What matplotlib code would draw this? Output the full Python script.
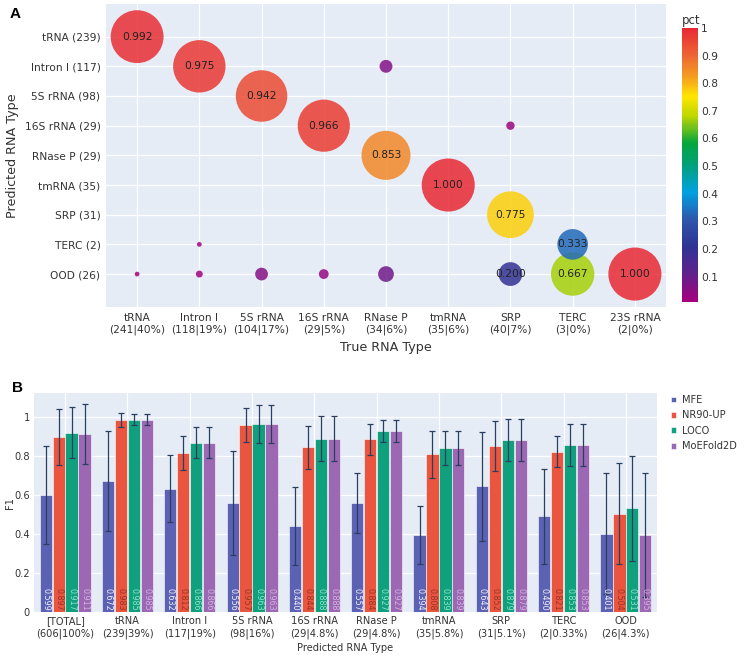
import matplotlib
matplotlib.use("Agg")
import matplotlib.pyplot as plt
from matplotlib.colors import LinearSegmentedColormap, Normalize
from matplotlib.colorbar import ColorbarBase
import numpy as np

plt.rcParams["font.family"] = ["DejaVu Sans"]

# ── 数据：A 面板（气泡图）──
true_types = ["tRNA", "Intron I", "5S rRNA", "16S rRNA", "RNase P",
              "tmRNA", "SRP", "TERC", "23S rRNA"]
true_ticklabels = ["tRNA\n(241|40%)", "Intron I\n(118|19%)", "5S rRNA\n(104|17%)",
                   "16S rRNA\n(29|5%)", "RNase P\n(34|6%)", "tmRNA\n(35|6%)",
                   "SRP\n(40|7%)", "TERC\n(3|0%)", "23S rRNA\n(2|0%)"]
pred_types = ["tRNA", "Intron I", "5S rRNA", "16S rRNA", "RNase P",
              "tmRNA", "SRP", "TERC", "OOD"]
pred_ticklabels = ["tRNA (239)", "Intron I (117)", "5S rRNA (98)", "16S rRNA (29)",
                   "RNase P (29)", "tmRNA (35)", "SRP (31)", "TERC (2)", "OOD (26)"]

bub_true = ["tRNA", "Intron I", "5S rRNA", "16S rRNA", "RNase P", "SRP", "TERC", "23S rRNA",
            "tRNA", "Intron I", "5S rRNA", "16S rRNA", "RNase P", "tmRNA", "SRP", "TERC",
            "Intron I", "RNase P", "SRP"]
bub_pred = ["OOD", "OOD", "OOD", "OOD", "OOD", "OOD", "OOD", "OOD",
            "tRNA", "Intron I", "5S rRNA", "16S rRNA", "RNase P", "tmRNA", "SRP", "TERC",
            "TERC", "Intron I", "16S rRNA"]
bub_pct = [0.008, 0.017, 0.058, 0.034, 0.088, 0.200, 0.667, 1.000,
           0.992, 0.975, 0.942, 0.966, 0.853, 1.000, 0.775, 0.333,
           0.008, 0.059, 0.025]

# ── 数据：B 面板（分组柱状图）──
groups = ["[TOTAL]\n(606|100%)", "tRNA\n(239|39%)", "Intron I\n(117|19%)",
          "5S rRNA\n(98|16%)", "16S rRNA\n(29|4.8%)", "RNase P\n(29|4.8%)",
          "tmRNA\n(35|5.8%)", "SRP\n(31|5.1%)", "TERC\n(2|0.33%)", "OOD\n(26|4.3%)"]
methods = ["MFE", "NR90-UP", "LOCO", "MoEFold2D"]
f1_mfe = [0.599, 0.672, 0.632, 0.556, 0.440, 0.557, 0.394, 0.643, 0.490, 0.401]
f1_nr90 = [0.897, 0.983, 0.812, 0.957, 0.844, 0.884, 0.808, 0.852, 0.821, 0.504]
f1_loco = [0.917, 0.985, 0.866, 0.963, 0.888, 0.927, 0.839, 0.879, 0.853, 0.531]
f1_moe = [0.911, 0.985, 0.866, 0.963, 0.888, 0.927, 0.839, 0.879, 0.853, 0.395]
sd_mfe = [0.253, 0.257, 0.172, 0.266, 0.199, 0.154, 0.148, 0.280, 0.242, 0.310]
sd_nr90 = [0.144, 0.034, 0.087, 0.085, 0.110, 0.079, 0.120, 0.128, 0.080, 0.258]
sd_loco = [0.131, 0.029, 0.079, 0.096, 0.115, 0.057, 0.086, 0.108, 0.108, 0.270]
sd_moe = [0.155, 0.029, 0.079, 0.096, 0.115, 0.057, 0.086, 0.108, 0.108, 0.317]

# 颜色
BG = "#E5ECF6"
TXT = "#333333"
bar_colors = ["#5C62B3", "#E9553F", "#11A07E", "#9C68B3"]
bar_text_colors = ["#F0F0FA", "#9A3422", "#8CE6C8", "#D2B2E2"]
err_color = "#2A3F5F"
pct_cmap = LinearSegmentedColormap.from_list("pct", [
    (0.00, (0.65, 0.00, 0.49)),
    (0.10, (0.38, 0.13, 0.55)),
    (0.20, (0.18, 0.20, 0.58)),
    (0.30, (0.18, 0.34, 0.67)),
    (0.40, (0.00, 0.63, 0.88)),
    (0.50, (0.00, 0.63, 0.48)),
    (0.58, (0.02, 0.65, 0.24)),
    (0.68, (0.75, 0.84, 0.00)),
    (0.75, (1.00, 0.90, 0.00)),
    (0.82, (0.96, 0.63, 0.12)),
    (0.90, (0.93, 0.40, 0.20)),
    (1.00, (0.91, 0.16, 0.20)),
])

W, H = 744, 656
fig = plt.figure(figsize=(W / 100, H / 100), dpi=100)


def px_axes(x0, y0, x1, y1):
    return fig.add_axes([x0 / W, 1 - y1 / H, (x1 - x0) / W, (y1 - y0) / H])


# ── A：气泡图 ──
ax1 = px_axes(106, 4, 666, 307)
ax1.set_facecolor(BG)
for s in ax1.spines.values():
    s.set_visible(False)
ax1.set_axisbelow(True)
ax1.grid(True, color="white", linewidth=0.9)

bx = [true_types.index(t) for t in bub_true]
by = [pred_types.index(p) for p in bub_pred]
norm = Normalize(vmin=min(bub_pct), vmax=1.0)
sizes = [1460 * p for p in bub_pct]
ax1.scatter(bx, by, s=sizes, c=bub_pct, cmap=pct_cmap, norm=norm,
            alpha=0.85, linewidths=0, zorder=3)
for xi, yi, p in zip(bx, by, bub_pct):
    if p >= 0.15:
        ax1.text(xi, yi, f"{p:.3f}", ha="center", va="center",
                 fontsize=7.7, color="#222222", zorder=4)

ax1.set_xlim(-0.5, len(true_types) - 0.5)
ax1.set_ylim(len(pred_types) - 1 + 1.11, -1.1)
ax1.set_xticks(range(len(true_types)))
ax1.set_xticklabels(true_ticklabels, fontsize=7.7, color=TXT, linespacing=1.25)
ax1.set_yticks(range(len(pred_types)))
ax1.set_yticklabels(pred_ticklabels, fontsize=7.7, color=TXT)
ax1.tick_params(length=0, pad=4)
ax1.set_xlabel("True RNA Type", fontsize=9.2, color=TXT, labelpad=4)
ax1.set_ylabel("Predicted RNA Type", fontsize=9.2, color=TXT, labelpad=4)

cax = px_axes(682, 28, 698, 302)
cb = ColorbarBase(cax, cmap=pct_cmap, norm=norm)
cb.outline.set_visible(False)
cb.set_ticks([0.1, 0.2, 0.3, 0.4, 0.5, 0.6, 0.7, 0.8, 0.9, 1.0])
cb.set_ticklabels(["0.1", "0.2", "0.3", "0.4", "0.5", "0.6", "0.7", "0.8", "0.9", "1"])
cax.tick_params(length=0, labelsize=7.7, colors=TXT, pad=2)
cax.set_title("pct", fontsize=8.5, color=TXT, loc="left", pad=3)

fig.text(10 / W, 1 - 14 / H, "A", fontsize=11, fontweight="bold",
         family=["Liberation Sans", "DejaVu Sans"], va="center")

# ── B：分组柱状图 ──
ax2 = px_axes(34, 393, 657, 612)
ax2.set_facecolor(BG)
for s in ax2.spines.values():
    s.set_visible(False)
ax2.set_axisbelow(True)
ax2.grid(True, color="white", linewidth=0.9)

values = [f1_mfe, f1_nr90, f1_loco, f1_moe]
errors = [sd_mfe, sd_nr90, sd_loco, sd_moe]
x = np.arange(len(groups))
slot = 0.2075
bw = 0.197
for k, (name, vals, errs) in enumerate(zip(methods, values, errors)):
    xs = x + (k - 1.5) * slot
    ax2.bar(xs, vals, width=bw, color=bar_colors[k], edgecolor="white",
            linewidth=0.4, label=name, zorder=2)
    ax2.errorbar(xs, vals, yerr=errs, fmt="none", ecolor=err_color,
                 elinewidth=0.9, capsize=2.2, capthick=0.9, zorder=3)
    for xi, v in zip(xs, vals):
        ax2.text(xi, 0.006, f"{v:.3f}", rotation=-90, ha="center", va="bottom",
                 fontsize=5.8, color=bar_text_colors[k], zorder=4)

ax2.set_xlim(-0.5, len(groups) - 0.5)
ax2.set_ylim(0, 1.121)
ax2.set_xticks(x)
ax2.set_xticklabels(groups, fontsize=7.1, color=TXT, linespacing=1.25)
ax2.set_yticks([0, 0.2, 0.4, 0.6, 0.8, 1.0])
ax2.set_yticklabels(["0", "0.2", "0.4", "0.6", "0.8", "1"], fontsize=7.1, color=TXT)
ax2.tick_params(length=0, pad=3)
ax2.set_xlabel("Predicted RNA Type", fontsize=7.1, color=TXT, labelpad=3)
fig.text(10 / W, 1 - 503 / H, "F1", fontsize=7.1, color=TXT, rotation=90,
         ha="center", va="center")

fig.legend(loc="upper left", bbox_to_anchor=(671 / W, 1 - 395 / H), frameon=False,
           fontsize=7.1, handlelength=0.55, handleheight=0.55, handletextpad=0.55,
           labelspacing=0.55, labelcolor=TXT, borderpad=0, borderaxespad=0)

fig.text(12 / W, 1 - 388 / H, "B", fontsize=11, fontweight="bold",
         family=["Liberation Sans", "DejaVu Sans"], va="center")

fig.savefig("out.png", dpi=100)
